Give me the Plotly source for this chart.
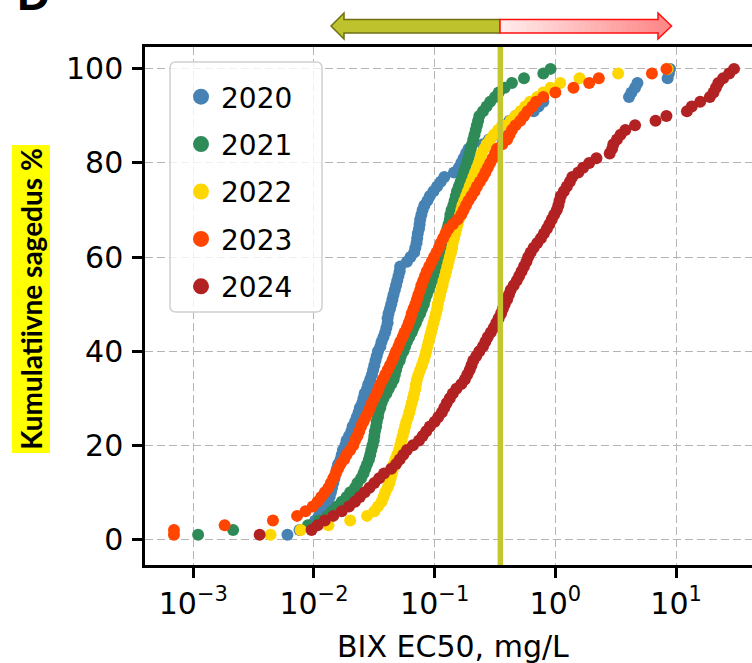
import numpy as np
import pandas as pd
import plotly.express as px
import plotly.graph_objects as go

# ---------------------------------------------------------------- data
YEARS = ["2020", "2021", "2022", "2023", "2024"]
COLORS = {
    "2020": "#4682B4",
    "2021": "#2E8B57",
    "2022": "#FFD700",
    "2023": "#FF4500",
    "2024": "#B22222",
}

# log10 of BIX EC50 (mg/L) per sample, sorted, one list per year
log_ec50_2020 = [
    -2.22, -2.12, -2.03, -1.99, -1.96, -1.94, -1.91, -1.89, -1.87, -1.86,
    -1.85, -1.84, -1.83, -1.82, -1.81, -1.80, -1.78, -1.77, -1.76, -1.74,
    -1.73, -1.71, -1.69, -1.68, -1.66, -1.645, -1.63, -1.62, -1.60, -1.59,
    -1.58, -1.56, -1.55, -1.534, -1.52, -1.51, -1.50, -1.49, -1.48, -1.47,
    -1.45, -1.44, -1.424, -1.41, -1.40, -1.39, -1.39, -1.382, -1.37, -1.36,
    -1.35, -1.341, -1.33, -1.32, -1.31, -1.30, -1.29, -1.286, -1.23, -1.20,
    -1.17, -1.16, -1.15, -1.145, -1.14, -1.13, -1.125, -1.12, -1.11, -1.10,
    -1.085, -1.06, -1.04, -1.01, -0.98, -0.95, -0.92, -0.84, -0.80, -0.78,
    -0.76, -0.74, -0.72, -0.60, -0.55, -0.50, -0.46, -0.43, -0.38, -0.33,
    -0.18, -0.14, -0.10, 0.61, 0.63, 0.66, 0.68, 0.93, 0.94, 0.95,
]
log_ec50_2021 = [
    -2.96, -2.67, -2.05, -1.96, -1.89, -1.85, -1.81, -1.77, -1.73, -1.70,
    -1.66, -1.64, -1.61, -1.59, -1.575, -1.56, -1.545, -1.534, -1.525, -1.515,
    -1.505, -1.50, -1.495, -1.485, -1.48, -1.47, -1.465, -1.45, -1.44, -1.424,
    -1.40, -1.38, -1.36, -1.34, -1.33, -1.32, -1.31, -1.29, -1.28, -1.26,
    -1.245, -1.23, -1.21, -1.19, -1.175, -1.155, -1.14, -1.12, -1.105, -1.09,
    -1.08, -1.065, -1.05, -1.037, -1.02, -1.00, -0.98, -0.97, -0.96, -0.95,
    -0.94, -0.927, -0.92, -0.91, -0.90, -0.895, -0.885, -0.875, -0.87, -0.86,
    -0.845, -0.835, -0.825, -0.815, -0.80, -0.785, -0.77, -0.76, -0.745, -0.733,
    -0.72, -0.71, -0.70, -0.69, -0.68, -0.67, -0.66, -0.65, -0.64, -0.63,
    -0.60, -0.57, -0.54, -0.50, -0.47, -0.42, -0.36, -0.26, -0.10, -0.04,
]
log_ec50_2022 = [
    -2.36, -2.11, -1.88, -1.70, -1.56, -1.50, -1.47, -1.44, -1.424, -1.41,
    -1.39, -1.375, -1.365, -1.355, -1.345, -1.34, -1.325, -1.31, -1.295, -1.285,
    -1.275, -1.265, -1.255, -1.245, -1.235, -1.22, -1.21, -1.20, -1.19, -1.18,
    -1.17, -1.16, -1.155, -1.147, -1.135, -1.12, -1.105, -1.092, -1.08, -1.07,
    -1.06, -1.05, -1.04, -1.03, -1.02, -1.01, -1.00, -0.99, -0.98, -0.975,
    -0.965, -0.955, -0.945, -0.935, -0.927, -0.915, -0.905, -0.895, -0.885, -0.875,
    -0.865, -0.855, -0.85, -0.84, -0.83, -0.82, -0.81, -0.80, -0.79, -0.78,
    -0.77, -0.755, -0.74, -0.725, -0.71, -0.695, -0.68, -0.665, -0.65, -0.635,
    -0.62, -0.61, -0.59, -0.57, -0.54, -0.51, -0.475, -0.44, -0.37, -0.33,
    -0.29, -0.25, -0.21, -0.15, -0.10, -0.04, 0.04, 0.20, 0.52, 0.93,
]
log_ec50_2023 = [
    -3.16, -3.16, -2.74, -2.34, -2.14, -2.07, -2.01, -1.97, -1.94, -1.91,
    -1.88, -1.86, -1.84, -1.82, -1.80, -1.78, -1.75, -1.73, -1.70, -1.675,
    -1.66, -1.64, -1.625, -1.61, -1.59, -1.57, -1.55, -1.535, -1.52, -1.50,
    -1.48, -1.465, -1.45, -1.43, -1.41, -1.39, -1.37, -1.35, -1.335, -1.32,
    -1.30, -1.285, -1.265, -1.25, -1.23, -1.215, -1.20, -1.19, -1.175, -1.16,
    -1.147, -1.135, -1.12, -1.11, -1.095, -1.08, -1.065, -1.045, -1.025, -1.005,
    -0.985, -0.965, -0.95, -0.93, -0.91, -0.885, -0.85, -0.81, -0.78, -0.76,
    -0.74, -0.72, -0.695, -0.67, -0.65, -0.625, -0.60, -0.58, -0.56, -0.54,
    -0.52, -0.50, -0.485, -0.44, -0.40, -0.38, -0.36, -0.33, -0.29, -0.26,
    -0.23, -0.19, -0.16, -0.10, 0.00, 0.15, 0.28, 0.36, 0.80, 0.92,
]
log_ec50_2024 = [
    -2.45, -2.02, -1.97, -1.91, -1.84, -1.77, -1.71, -1.66, -1.62, -1.58,
    -1.54, -1.50, -1.46, -1.42, -1.36, -1.32, -1.29, -1.26, -1.23, -1.18,
    -1.13, -1.10, -1.07, -1.04, -1.00, -0.97, -0.94, -0.92, -0.90, -0.875,
    -0.85, -0.82, -0.78, -0.75, -0.73, -0.71, -0.695, -0.68, -0.655, -0.63,
    -0.60, -0.58, -0.56, -0.535, -0.51, -0.49, -0.47, -0.45, -0.435, -0.42,
    -0.40, -0.385, -0.37, -0.345, -0.32, -0.30, -0.28, -0.26, -0.24, -0.225,
    -0.205, -0.18, -0.15, -0.12, -0.095, -0.07, -0.05, -0.03, -0.01, 0.012,
    0.025, 0.034, 0.045, 0.07, 0.095, 0.12, 0.14, 0.19, 0.23, 0.28,
    0.34, 0.45, 0.47, 0.48, 0.51, 0.54, 0.58, 0.66, 0.83, 0.92,
    1.09, 1.13, 1.20, 1.28, 1.31, 1.33, 1.35, 1.39, 1.44, 1.48,
]

LOG_EC50 = {
    "2020": log_ec50_2020,
    "2021": log_ec50_2021,
    "2022": log_ec50_2022,
    "2023": log_ec50_2023,
    "2024": log_ec50_2024,
}

THRESHOLD = 0.35  # mg/L, marked by the vertical line

X_TICKS = [0.001, 0.01, 0.1, 1, 10]
X_TICK_TEXT = ["10<sup>\u22123</sup>", "10<sup>\u22122</sup>", "10<sup>\u22121</sup>",
               "10<sup>0</sup>", "10<sup>1</sup>"]
Y_TICKS = [0, 20, 40, 60, 80, 100]

X_RANGE_LOG = [-3.40, 1.629]
Y_RANGE = [-5.44, 104.65]

# ---------------------------------------------------------------- frame geometry (px)
FIG_W, FIG_H = 752, 663
M_L, M_R, M_T, M_B = 145, 0, 47, 98
PLOT_W = FIG_W - M_L - M_R
PLOT_H = FIG_H - M_T - M_B


def px_x(p):
    return (p - M_L) / PLOT_W


def px_y(p):
    return (FIG_H - M_B - p) / PLOT_H


def path_from_px(points, close=True):
    s = "M " + " L ".join(f"{px_x(x):.5f},{px_y(y):.5f}" for x, y in points)
    return s + (" Z" if close else "")


def rounded_rect_px(x0, y0, x1, y1, r):
    def P(x, y):
        return f"{px_x(x):.5f},{px_y(y):.5f}"
    return (f"M {P(x0 + r, y0)} L {P(x1 - r, y0)} Q {P(x1, y0)} {P(x1, y0 + r)} "
            f"L {P(x1, y1 - r)} Q {P(x1, y1)} {P(x1 - r, y1)} "
            f"L {P(x0 + r, y1)} Q {P(x0, y1)} {P(x0, y1 - r)} "
            f"L {P(x0, y0 + r)} Q {P(x0, y0)} {P(x0 + r, y0)} Z")


# ---------------------------------------------------------------- ECDF traces
df = pd.DataFrame(
    [(year, 10 ** v) for year in YEARS for v in LOG_EC50[year]],
    columns=["year", "ec50"],
)

fig = px.ecdf(
    df, x="ec50", color="year", ecdfnorm="percent",
    markers=True, lines=False, log_x=True,
    color_discrete_map=COLORS, category_orders={"year": YEARS},
    template="none",
)
fig.update_traces(marker=dict(size=12, line=dict(width=0), opacity=1),
                  showlegend=False, hoverinfo="skip", hovertemplate=None)

# threshold line
fig.add_trace(go.Scatter(
    x=[THRESHOLD, THRESHOLD], y=Y_RANGE, mode="lines",
    line=dict(color="#C3C62D", width=5.5),
    showlegend=False, hoverinfo="skip",
))

# legend entries
for year in YEARS:
    fig.add_trace(go.Scatter(
        x=[None], y=[None], mode="markers", name=year, legendgroup=year,
        marker=dict(size=16, color=COLORS[year], line=dict(width=0)),
        showlegend=True,
    ))

# ---------------------------------------------------------------- axes
grid = dict(showgrid=True, gridcolor="#b5b5b5", gridwidth=1.4, griddash="8px,4px")
axis_common = dict(
    ticks="outside", ticklen=10, tickwidth=2.5, tickcolor="black",
    showline=True, linewidth=2.5, linecolor="black",
    zeroline=False, tickfont=dict(family="DejaVu Sans", size=30, color="black"),
    title=dict(text=""),
)

fig.update_xaxes(type="log", range=X_RANGE_LOG, tickmode="array",
                 tickvals=X_TICKS, ticktext=X_TICK_TEXT, mirror=True,
                 **axis_common, **grid)
fig.update_yaxes(range=Y_RANGE, tickmode="array", tickvals=Y_TICKS,
                 mirror=False, ticklabelstandoff=3, **axis_common, **grid)

# ---------------------------------------------------------------- shapes
shapes = []

# legend frame
shapes.append(dict(
    type="path", xref="paper", yref="paper", layer="above",
    path=rounded_rect_px(170, 62, 322, 312, 6),
    fillcolor="rgba(255,255,255,0.8)", line=dict(color="#d0d0d0", width=1.5),
))

# olive arrow (pointing left)
shapes.append(dict(
    type="path", xref="paper", yref="paper",
    path=path_from_px([(331, 26), (344, 13), (344, 19.5), (500, 19.5),
                       (500, 33), (344, 33), (344, 39)]),
    fillcolor="#BEC32D", line=dict(color="#6E7012", width=1.5),
))

# red arrow (pointing right) with a light-to-dark fill
BODY_X0, BODY_X1 = 500, 658
N_STRIPS = 30
c0 = np.array([255, 238, 238])
c1 = np.array([255, 140, 140])
for i in range(N_STRIPS):
    a = BODY_X0 + (BODY_X1 - BODY_X0) * i / N_STRIPS
    b = BODY_X0 + (BODY_X1 - BODY_X0) * (i + 1) / N_STRIPS + 0.6
    t = (i + 0.5) / N_STRIPS
    c = (c0 + (c1 - c0) * t).astype(int)
    shapes.append(dict(
        type="rect", xref="paper", yref="paper",
        x0=px_x(a), x1=px_x(b), y0=px_y(33), y1=px_y(19.5),
        fillcolor=f"rgb({c[0]},{c[1]},{c[2]})", line=dict(width=0),
    ))
shapes.append(dict(
    type="path", xref="paper", yref="paper",
    path=path_from_px([(658, 13), (671.5, 26), (658, 39)]),
    fillcolor="#FF8A8A", line=dict(width=0),
))
shapes.append(dict(
    type="path", xref="paper", yref="paper",
    path=path_from_px([(500, 19.5), (658, 19.5), (658, 13), (671.5, 26),
                       (658, 39), (658, 33), (500, 33)]),
    fillcolor="rgba(0,0,0,0)", line=dict(color="#FF1010", width=1.5),
))

# ---------------------------------------------------------------- text
annotations = [
    dict(text="BIX EC50, mg/L", xref="paper", yref="paper",
         x=px_x(453), y=px_y(646), xanchor="center", yanchor="middle",
         showarrow=False, font=dict(family="DejaVu Sans", size=30, color="black")),
    dict(text="Kumulatiivne sagedus %", xref="paper", yref="paper",
         x=px_x(31), y=px_y(299), xanchor="center", yanchor="middle",
         textangle=-90, width=308, height=38, bgcolor="#FFFF00",
         borderpad=0, borderwidth=0, showarrow=False,
         font=dict(family="Lato", size=28, color="black", weight="bold")),
    dict(text="<b>D</b>", xref="paper", yref="paper",
         x=px_x(15), y=px_y(-6), xanchor="left", yanchor="middle",
         showarrow=False, font=dict(family="Liberation Sans", size=46, color="black")),
]

fig.update_layout(
    width=FIG_W, height=FIG_H,
    margin=dict(l=M_L, r=M_R, t=M_T, b=M_B, pad=0),
    paper_bgcolor="white", plot_bgcolor="white",
    font=dict(family="DejaVu Sans", color="black"),
    showlegend=True,
    legend=dict(
        title=dict(text=""),
        x=px_x(181), y=px_y(72), xanchor="left", yanchor="top",
        bgcolor="rgba(0,0,0,0)", borderwidth=0,
        font=dict(family="DejaVu Sans", size=28, color="black"),
        tracegroupgap=8, traceorder="grouped",
    ),
    shapes=shapes,
    annotations=annotations,
    hovermode=False,
)

fig.write_html("out.html")
